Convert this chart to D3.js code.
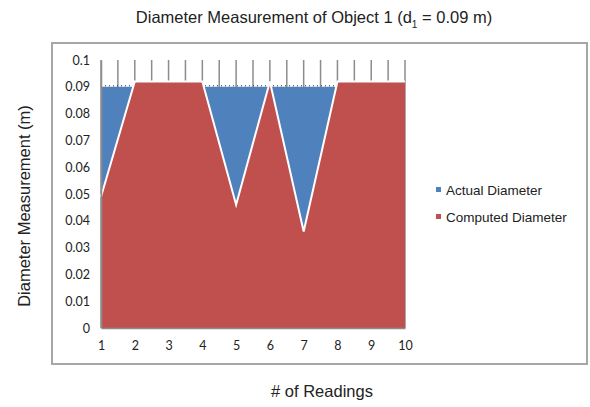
<!DOCTYPE html>
<html>
<head>
<meta charset="utf-8">
<script src="https://cdn.jsdelivr.net/npm/d3@7"></script>
<style>
  body { margin: 0; background: #fff; }
  text { font-family: "Liberation Sans", Arial, sans-serif; }
  .tick text { font-family: Lato, "Open Sans", sans-serif; font-size: 12.5px; fill: #222; }
</style>
</head>
<body>
<div id="chart"></div>
<script>
// Diameter measurement area chart

const readings = [1, 2, 3, 4, 5, 6, 7, 8, 9, 10];
const actual = [0.09, 0.09, 0.09, 0.09, 0.09, 0.09, 0.09, 0.09, 0.09, 0.09];
const computed = [0.049, 0.092, 0.092, 0.092, 0.046, 0.092, 0.036, 0.092, 0.092, 0.092];
const yTicks = [0, 0.01, 0.02, 0.03, 0.04, 0.05, 0.06, 0.07, 0.08, 0.09, 0.1];
const seriesNames = ["Actual Diameter", "Computed Diameter"];
const colors = ["#4F81BD", "#C0504D"];

const width = 590, height = 407,
    margin = ({ top: 60, right: 185, bottom: 79, left: 101 });

const svg = d3.select("#chart")
    .append("svg")
    .attr("width", width)
    .attr("height", height);

// outer chart frame
svg.append("rect")
    .attr("x", 52).attr("y", 43)
    .attr("width", 535).attr("height", 321)
    .attr("fill", "none")
    .attr("stroke", "#a6a6a6")
    .attr("stroke-width", 2);

let x = d3.scaleLinear()
    .domain([1, 10])
    .range([margin.left, width - margin.right]);

let y = d3.scaleLinear()
    .domain([0, 0.1])
    .range([height - margin.bottom, margin.top]);

// vertical gridlines every half reading (only visible above the areas)
svg.append("g")
    .selectAll("line")
    .data(d3.range(1, 10.01, 0.5))
    .join("line")
    .attr("x1", d => x(d)).attr("x2", d => x(d))
    .attr("y1", y(0.1)).attr("y2", y(0))
    .attr("stroke", "#8c8c8c")
    .attr("stroke-width", 1.5);

let area = vals => d3.area()
    .x((d, i) => x(readings[i]))
    .y0(y(0))
    .y1(d => y(d))(vals);

let line = vals => d3.line()
    .x((d, i) => x(readings[i]))
    .y(d => y(d))(vals);

// actual diameter area
svg.append("path")
    .attr("d", area(actual))
    .attr("fill", colors[0]);

svg.append("path")
    .attr("d", line(actual))
    .attr("fill", "none")
    .attr("stroke", "#333")
    .attr("stroke-width", 1)
    .attr("stroke-dasharray", "1,3")
    .attr("transform", "translate(0,-1)");

// computed diameter area with white outline
svg.append("path")
    .attr("d", area(computed))
    .attr("fill", colors[1]);

svg.append("path")
    .attr("d", line(computed))
    .attr("fill", "none")
    .attr("stroke", "#fff")
    .attr("stroke-width", 2);

// y axis
svg.append("g")
    .attr("transform", `translate(${margin.left},0)`)
    .call(d3.axisLeft(y)
      .tickValues(yTicks)
      .tickSize(0)
      .tickPadding(11)
      .tickFormat(d => d3.format("~g")(+d.toFixed(2))))
    .call(g => g.select(".domain").attr("stroke", "#8c8c8c").attr("stroke-width", 1.5));

// x axis
svg.append("g")
    .attr("transform", `translate(0,${height - margin.bottom})`)
    .call(d3.axisBottom(x)
      .tickValues(readings)
      .tickSize(0)
      .tickPadding(13)
      .tickFormat(d3.format("d")))
    .call(g => g.select(".domain").attr("stroke", "#8c8c8c").attr("stroke-width", 1.5));

// title with subscript
let title = svg.append("text")
    .attr("x", 314).attr("y", 23)
    .attr("text-anchor", "middle")
    .attr("font-size", "16.5px")
    .attr("fill", "#222");
title.append("tspan").text("Diameter Measurement of Object 1 (d");
title.append("tspan").attr("dy", 5).attr("font-size", "10px").text("1");
title.append("tspan").attr("dy", -5).text(" = 0.09 m)");

// axis labels
svg.append("text")
    .attr("x", 322).attr("y", 397)
    .attr("text-anchor", "middle")
    .attr("font-size", "16.5px")
    .attr("fill", "#222")
    .text("# of Readings");

svg.append("text")
    .attr("transform", "translate(30,206) rotate(-90)")
    .attr("text-anchor", "middle")
    .attr("font-size", "16.5px")
    .attr("fill", "#222")
    .text("Diameter Measurement  (m)");

// legend
let legend = svg.append("g")
    .selectAll("g")
    .data(seriesNames)
    .join("g")
    .attr("transform", (d, i) => `translate(436,${190 + i * 27})`);

legend.append("rect")
    .attr("x", 0).attr("y", -3)
    .attr("width", 5).attr("height", 5)
    .attr("fill", (d, i) => colors[i]);

legend.append("text")
    .attr("x", 10).attr("y", 4.5)
    .attr("font-family", "Lato, 'Open Sans', sans-serif")
    .attr("font-size", "13.5px")
    .attr("fill", "#222")
    .text(d => d);
</script>
</body>
</html>
